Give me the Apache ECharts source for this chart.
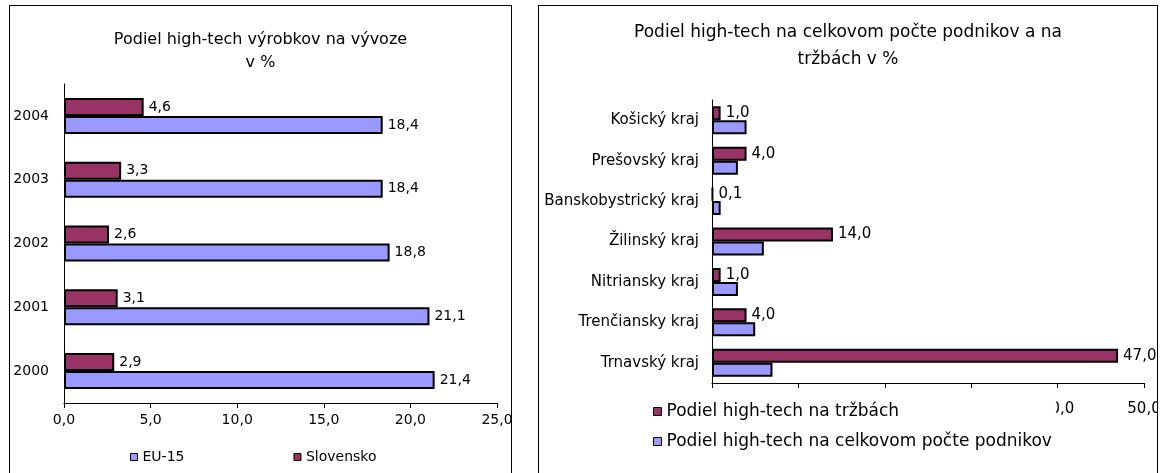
<!DOCTYPE html>
<html>
<head>
<meta charset="UTF-8">
<title>Podiel high-tech</title>
<script src="https://cdn.jsdelivr.net/npm/echarts@6/dist/echarts.min.js"></script>
<style>
    body { margin: 0; background: #fff; }
    .box { position: absolute; top: 5px; height: 480px; border: 1px solid #000; background: #fff; }
</style>
</head>
<body>
<div class="box" id="boxExport" style="left:9px; width:501px;"></div>
<div class="box" id="boxRegions" style="left:538px; width:618px;"></div>
<script>
    // left chart: share of high-tech products in exports
    var years = ['2000', '2001', '2002', '2003', '2004'];
    var eu15 = [21.4, 21.1, 18.8, 18.4, 18.4];
    var slovensko = [2.9, 3.1, 2.6, 3.3, 4.6];

    // right chart: regions, share in sales and in number of firms
    var regions = ['Trnavský kraj', 'Trenčiansky kraj', 'Nitriansky kraj', 'Žilinský kraj',
        'Banskobystrický kraj', 'Prešovský kraj', 'Košický kraj'];
    var trzby = [47.0, 4.0, 1.0, 14.0, 0.1, 4.0, 1.0];
    var podniky = [7.0, 5.0, 3.0, 6.0, 1.0, 3.0, 4.0];

    function fmt(v) {
        return Number(v).toFixed(1).replace('.', ',');
    }

    var font = 'DejaVu Sans';

    var chartExport = echarts.init(document.getElementById('boxExport'), null, {renderer: 'canvas'});
    var chartRegions = echarts.init(document.getElementById('boxRegions'), null, {renderer: 'canvas'});

    chartExport.setOption({
        animation: false,
        textStyle: {fontFamily: font, color: '#000'},
        title: {
            text: 'Podiel high-tech výrobkov na vývoze\nv %',
            left: 'center', top: 22, padding: 0,
            textStyle: {fontFamily: font, fontSize: 16, fontWeight: 'normal', lineHeight: 23, color: '#000'}
        },
        legend: {
            data: ['EU-15', 'Slovensko'],
            left: 115, top: 439,
            icon: 'rect', itemWidth: 7, itemHeight: 7, itemGap: 109,
            itemStyle: {borderWidth: 1, borderColor: '#000'},
            textStyle: {fontFamily: font, fontSize: 14, color: '#000'}
        },
        grid: {left: 54, top: 78, width: 433, height: 319, outerBoundsMode: 'none'},
        xAxis: {
            type: 'value', min: 0, max: 25, interval: 5,
            axisLine: {show: true, lineStyle: {color: '#000'}},
            axisTick: {show: true, length: 5, lineStyle: {color: '#000'}},
            splitLine: {show: false},
            axisLabel: {fontFamily: font, fontSize: 14, color: '#000', margin: 10, formatter: fmt}
        },
        yAxis: {
            type: 'category', data: years,
            axisLine: {lineStyle: {color: '#000'}},
            axisTick: {length: 5, lineStyle: {color: '#000'}},
            axisLabel: {fontFamily: font, fontSize: 14, color: '#000', margin: 15}
        },
        series: [
            {
                name: 'Slovensko', type: 'bar', data: slovensko,
                barWidth: 18, barGap: '0%',
                itemStyle: {color: '#993366', borderColor: '#000', borderWidth: 2},
                label: {show: true, position: 'right', distance: 5, fontFamily: font, fontSize: 14, color: '#000',
                    formatter: function (p) { return fmt(p.value); }}
            },
            {
                name: 'EU-15', type: 'bar', data: eu15,
                barWidth: 18, barGap: '0%',
                itemStyle: {color: '#9999FF', borderColor: '#000', borderWidth: 2},
                label: {show: true, position: 'right', distance: 5, fontFamily: font, fontSize: 14, color: '#000',
                    formatter: function (p) { return fmt(p.value); }}
            }
        ]
    });

    chartRegions.setOption({
        animation: false,
        textStyle: {fontFamily: font, color: '#000'},
        title: {
            text: 'Podiel high-tech na celkovom počte podnikov a na\ntržbách v %',
            left: 'center', top: 13, padding: 0,
            textStyle: {fontFamily: font, fontSize: 17, fontWeight: 'normal', lineHeight: 27, color: '#000'}
        },
        legend: {
            data: ['Podiel high-tech na tržbách', 'Podiel high-tech na celkovom počte podnikov'],
            orient: 'vertical',
            left: 110, top: 391,
            padding: [6, 4, 6, 4],
            backgroundColor: '#fff',
            icon: 'rect', itemWidth: 8, itemHeight: 8, itemGap: 13,
            itemStyle: {borderWidth: 1, borderColor: '#000'},
            textStyle: {fontFamily: font, fontSize: 17, color: '#000'}
        },
        grid: {left: 173, top: 94, width: 432, height: 283, outerBoundsMode: 'none'},
        xAxis: {
            type: 'value', min: 0, max: 50, interval: 10,
            axisLine: {show: true, lineStyle: {color: '#000'}},
            axisTick: {show: true, length: 5, lineStyle: {color: '#000'}},
            splitLine: {show: false},
            axisLabel: {fontFamily: font, fontSize: 15, color: '#000', margin: 19, formatter: fmt}
        },
        yAxis: {
            type: 'category', data: regions,
            axisLine: {lineStyle: {color: '#000'}},
            axisTick: {length: 5, lineStyle: {color: '#000'}},
            axisLabel: {fontFamily: font, fontSize: 15, color: '#000', margin: 13}
        },
        series: [
            {
                name: 'Podiel high-tech na tržbách', type: 'bar', data: trzby,
                barWidth: 14, barGap: '0%',
                itemStyle: {color: '#993366', borderColor: '#000', borderWidth: 2},
                label: {show: true, position: 'right', distance: 5, fontFamily: font, fontSize: 15, color: '#000',
                    formatter: function (p) { return fmt(p.value); }}
            },
            {
                name: 'Podiel high-tech na celkovom počte podnikov', type: 'bar', data: podniky,
                barWidth: 14, barGap: '0%',
                itemStyle: {color: '#9999FF', borderColor: '#000', borderWidth: 2}
            }
        ]
    });
</script>
</body>
</html>
